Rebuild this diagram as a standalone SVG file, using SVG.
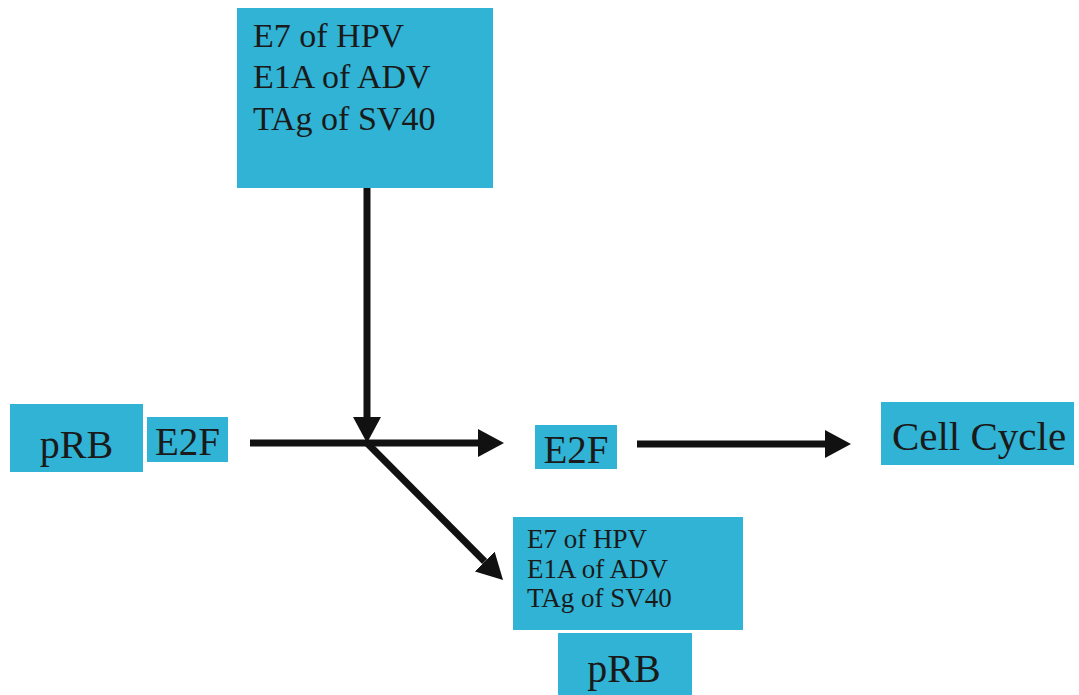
<svg xmlns="http://www.w3.org/2000/svg" width="1079" height="695" viewBox="0 0 1079 695">
<defs>
<style>
.box{fill:#30b3d4;}
.t{fill:#1a1a1a;}
.c{stroke:#111;stroke-width:7;fill:none;}
</style>
<marker id="ah" markerUnits="userSpaceOnUse" viewBox="0 0 26 28" refX="0" refY="14" markerWidth="26" markerHeight="28" orient="auto">
<path d="M0,0 L26,14 L0,28 z" fill="#111"/>
</marker>
</defs>
<rect width="1079" height="695" fill="#fff"/>
<g font-family="'Liberation Serif', Tinos, 'DejaVu Serif', serif">
<g id="viral-top">
<rect class="box" x="237" y="8" width="256" height="180"/>
<text class="t" x="253" y="47" font-size="34">E7 of HPV</text>
<text class="t" x="253" y="88" font-size="34">E1A of ADV</text>
<text class="t" x="253" y="130" font-size="34">TAg of SV40</text>
</g>
<g id="prb-left">
<rect class="box" x="10" y="404" width="133" height="68"/>
<text class="t" x="76.5" y="458" font-size="40" text-anchor="middle">pRB</text>
</g>
<g id="e2f-left">
<rect class="box" x="147" y="417" width="81" height="45"/>
<text class="t" x="187.5" y="455" font-size="39" text-anchor="middle">E2F</text>
</g>
<g id="e2f-free">
<rect class="box" x="535" y="425" width="82" height="44"/>
<text class="t" x="576" y="463" font-size="39" text-anchor="middle">E2F</text>
</g>
<g id="cell-cycle">
<rect class="box" x="881" y="402" width="193" height="63"/>
<text class="t" x="979" y="450" font-size="41" text-anchor="middle">Cell Cycle</text>
</g>
<g id="viral-bottom">
<rect class="box" x="513" y="517" width="230" height="113"/>
<text class="t" x="527" y="548" font-size="27">E7 of HPV</text>
<text class="t" x="527" y="578" font-size="27">E1A of ADV</text>
<text class="t" x="527" y="607" font-size="27">TAg of SV40</text>
</g>
<g id="prb-bottom">
<rect class="box" x="558" y="633" width="134" height="62"/>
<text class="t" x="624" y="682" font-size="40" text-anchor="middle">pRB</text>
</g>
</g>
<g id="connectors">
<line class="c" x1="367" y1="188" x2="367" y2="417" marker-end="url(#ah)"/>
<line class="c" x1="250" y1="443" x2="478" y2="443" marker-end="url(#ah)"/>
<line class="c" x1="367" y1="443" x2="484.7" y2="561.5" marker-end="url(#ah)"/>
<line class="c" x1="637" y1="444" x2="825" y2="444" marker-end="url(#ah)"/>
</g>
</svg>
